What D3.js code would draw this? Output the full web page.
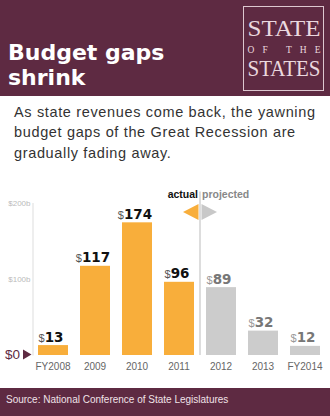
<!DOCTYPE html>
<html>
<head>
<meta charset="utf-8">
<script src="https://cdn.jsdelivr.net/npm/d3@7"></script>
<style>
  html, body { margin: 0; padding: 0; background: #fff; }
  svg { display: block; }
</style>
</head>
<body>
<div id="chart"></div>
<script>
// data
const years = ["FY2008", "2009", "2010", "2011", "2012", "2013", "FY2014"];
const gaps = [13, 117, 174, 96, 89, 32, 12];
const phase = ["actual", "actual", "actual", "actual", "projected", "projected", "projected"];
const yTicks = [100, 200];
const subtitle = [
  "As state revenues come back, the yawning",
  "budget gaps of the Great Recession are",
  "gradually fading away."
];

const W = 330, H = 416;
const maroon = "#5e2a42";
const orange = "#f8ae3b";
const grey = "#cccccc";

const svg = d3.select("#chart").append("svg")
  .attr("width", W)
  .attr("height", H);

// header band
svg.append("rect").attr("x", 0).attr("y", 0).attr("width", W).attr("height", 96).attr("fill", maroon);

svg.append("g")
  .selectAll("text")
  .data(["Budget gaps", "shrink"])
  .join("text")
  .attr("x", 8)
  .attr("y", (d, i) => 60 + i * 24.5)
  .attr("fill", "#fff")
  .style("font", "bold 22px 'DejaVu Sans'")
  .text(d => d);

// logo box
const logo = svg.append("g");
logo.append("rect")
  .attr("x", 243.5).attr("y", 6.5).attr("width", 80).attr("height", 84)
  .attr("fill", "none").attr("stroke", "#dcc7cf").attr("stroke-width", 1);
logo.append("text")
  .attr("x", 247.5).attr("y", 36)
  .attr("textLength", 73).attr("lengthAdjust", "spacingAndGlyphs")
  .attr("fill", "#ead8df")
  .style("font", "23.5px 'Liberation Serif'")
  .text("STATE");
logo.append("text")
  .attr("x", 247.5).attr("y", 52.5)
  .attr("textLength", 73).attr("lengthAdjust", "spacing")
  .attr("fill", "#ead8df")
  .style("font", "9.5px 'Liberation Serif'")
  .text("OF THE");
logo.append("text")
  .attr("x", 247.5).attr("y", 76)
  .attr("textLength", 73).attr("lengthAdjust", "spacingAndGlyphs")
  .attr("fill", "#ead8df")
  .style("font", "23.5px 'Liberation Serif'")
  .text("STATES");

// subtitle
svg.append("g")
  .selectAll("text")
  .data(subtitle)
  .join("text")
  .attr("x", 14)
  .attr("y", (d, i) => 116.5 + i * 20.5)
  .attr("fill", "#333")
  .style("font", "14.5px 'Liberation Sans'")
  .style("letter-spacing", "0.65px")
  .text(d => d);

// scales
const x = d3.scaleBand()
  .domain(years)
  .range([32, 326])
  .paddingInner(2 / 7)
  .paddingOuter(1 / 7);

const y = d3.scaleLinear()
  .domain([0, 200])
  .range([355, 202.5]);

// y axis
const yAxis = svg.append("g")
  .attr("transform", "translate(32.5,0)")
  .call(d3.axisLeft(y).tickValues(yTicks).tickSize(0).tickPadding(2).tickFormat(d => "$" + d + "b"));
yAxis.select(".domain").attr("stroke", "#ddd");
yAxis.selectAll("text")
  .attr("fill", "#bbb")
  .style("font", "8px 'Liberation Sans'");

// $0 marker
svg.append("text")
  .attr("x", 5).attr("y", 359)
  .attr("fill", maroon)
  .style("font", "13.5px 'Liberation Sans'")
  .text("$0");
svg.append("path")
  .attr("d", `M23,${y(0) - 5.5}L31.5,${y(0) - 0.5}L23,${y(0) + 4.5}Z`)
  .attr("fill", maroon);

// bars
svg.append("g")
  .selectAll("rect")
  .data(gaps)
  .join("rect")
  .attr("x", (d, i) => x(years[i]))
  .attr("y", d => y(d))
  .attr("width", x.bandwidth())
  .attr("height", d => y(0) - y(d))
  .attr("fill", (d, i) => phase[i] === "actual" ? orange : grey);

// value labels
const labels = svg.append("g")
  .selectAll("text")
  .data(gaps)
  .join("text")
  .attr("x", (d, i) => x(years[i]) + x.bandwidth() / 2 - 2)
  .attr("y", d => y(d) - 3.5)
  .attr("text-anchor", "middle");
labels.append("tspan")
  .attr("fill", (d, i) => phase[i] === "actual" ? "#555" : "#999")
  .style("font", "11px 'Liberation Sans'")
  .text("$");
labels.append("tspan")
  .attr("fill", (d, i) => phase[i] === "actual" ? "#111" : "#777")
  .style("font", "bold 13.5px 'DejaVu Sans'")
  .text(d => d);

// x axis labels
const xAxis = svg.append("g")
  .attr("transform", `translate(0,${y(0)})`)
  .call(d3.axisBottom(x).tickSize(0).tickPadding(8));
xAxis.select(".domain").remove();
xAxis.selectAll("text")
  .attr("fill", "#666")
  .style("font", "10px 'Liberation Sans'");

// actual / projected divider
const splitX = (x(years[3]) + x.bandwidth() + x(years[4])) / 2;
svg.append("line")
  .attr("x1", splitX).attr("x2", splitX)
  .attr("y1", 191.5).attr("y2", y(0))
  .attr("stroke", "#bbb").attr("stroke-width", 1);
svg.append("text")
  .attr("x", splitX - 2).attr("y", 198)
  .attr("text-anchor", "end")
  .attr("fill", "#111")
  .style("font", "bold 10.5px 'Liberation Sans'")
  .text("actual");
svg.append("text")
  .attr("x", splitX + 2).attr("y", 198)
  .attr("fill", "#888")
  .style("font", "bold 10.5px 'Liberation Sans'")
  .text("projected");
svg.append("path")
  .attr("d", `M${splitX - 1.5},204L${splitX - 1.5},220L${splitX - 17},212Z`)
  .attr("fill", orange);
svg.append("path")
  .attr("d", `M${splitX + 1.5},204L${splitX + 1.5},220L${splitX + 17},212Z`)
  .attr("fill", "#c8c8c8");

// footer
svg.append("rect").attr("x", 0).attr("y", 388).attr("width", W).attr("height", H - 388).attr("fill", maroon);
svg.append("text")
  .attr("x", 6).attr("y", 403)
  .attr("fill", "#f0e2e8")
  .style("font", "10px 'Liberation Sans'")
  .text("Source: National Conference of State Legislatures");
</script>
</body>
</html>
